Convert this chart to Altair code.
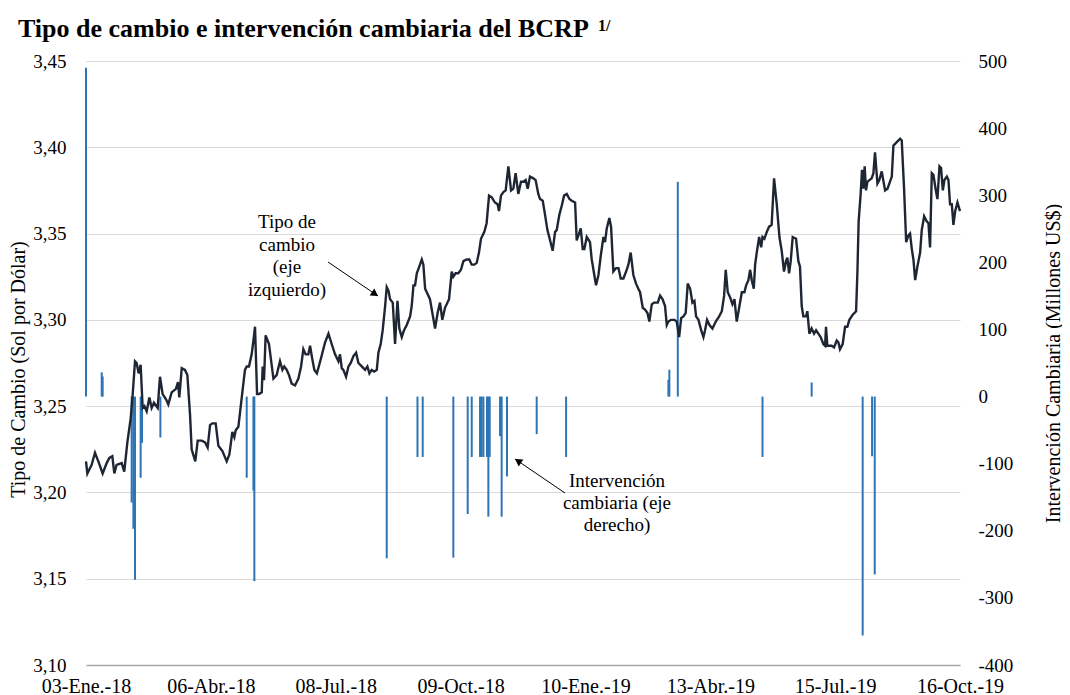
import altair as alt
import pandas as pd

# ---------------- datos ----------------
inicio = "2018-01-03"
fin = "2019-10-16"
fechas_eje = ["2018-01-03", "2018-04-06", "2018-07-08", "2018-10-09",
              "2019-01-10", "2019-04-13", "2019-07-15", "2019-10-16"]
meses_es = ["Ene.", "Feb.", "Mar.", "Abr.", "May.", "Jun.",
            "Jul.", "Ago.", "Set.", "Oct.", "Nov.", "Dic."]
ticks_tc = [3.10, 3.15, 3.20, 3.25, 3.30, 3.35, 3.40, 3.45]
ticks_int = [-400, -300, -200, -100, 0, 100, 200, 300, 400, 500]

titulo = "Tipo de cambio e intervención cambiaria del BCRP"
nota = "1/"

# días transcurridos desde el 03-Ene-18
dias_tc = [
    0, 1, 4.2, 6.7, 9.2, 12.4, 15.4, 17.4, 19.6, 21.1,
    22.8, 26.6, 28.5, 30.8, 33.3, 34.8, 36.5, 37.7, 39.2, 40.7,
    42.2, 43.5, 45.2, 47.2, 48.9, 50.6, 53.4, 55.1, 57.1, 59.6,
    61.3, 63.8, 67.0, 68.5, 69.5, 71.3, 73.7, 75.5, 77.5, 78.7,
    81.4, 83.2, 86.2, 88.7, 90.6, 92.4, 94.1, 96.6, 98.6, 101.6,
    104.8, 106.8, 109.0, 110.5, 111.5, 113.5, 116.0, 118.4, 119.7, 121.4,
    123.4, 124.7, 125.9, 127.4, 128.9, 130.9, 131.6, 132.6, 133.8, 136.3,
    139.6, 142.0, 144.5, 146.3, 147.7, 149.5, 151.2, 153.2, 155.7, 158.2,
    160.2, 161.9, 163.6, 165.6, 166.9, 168.4, 170.1, 172.0, 174.8, 178.1,
    180.6, 183.0, 185.5, 188.0, 189.2, 190.5, 191.7, 193.7, 195.5, 197.2,
    199.2, 201.2, 202.9, 205.4, 207.9, 209.6, 211.1, 212.8, 214.6, 216.6,
    217.8, 219.5, 221.0, 222.8, 224.0, 225.3, 226.5, 228.5, 230.2, 232.0,
    233.4, 235.2, 236.9, 238.9, 241.4, 242.6, 243.9, 245.1, 246.4, 248.3,
    250.1, 251.3, 252.6, 256.2, 258.0, 260.0, 261.9, 263.7, 265.4, 267.4,
    270.4, 272.4, 273.6, 275.3, 277.3, 279.3, 281.1, 283.5, 285.5, 287.3,
    289.2, 291.0, 292.7, 294.2, 296.7, 298.4, 300.2, 302.2, 304.6, 306.6,
    307.6, 309.1, 310.9, 312.6, 314.6, 316.6, 318.3, 320.0, 322.0, 324.0,
    325.7, 327.5, 329.0, 330.7, 333.2, 334.9, 336.9, 338.2, 340.2, 341.9,
    343.7, 345.7, 347.6, 349.4, 350.6, 352.6, 354.3, 356.1, 358.1, 360.1,
    361.8, 364.3, 365.5, 366.8, 368.5, 370.0, 371.2, 373.0, 375.4, 376.7,
    378.4, 379.9, 381.7, 383.4, 385.4, 386.6, 387.9, 389.8, 391.1, 392.8,
    394.8, 396.6, 398.3, 400.3, 402.3, 404.0, 405.7, 407.7, 409.7, 411.4,
    412.7, 414.7, 416.4, 418.2, 419.6, 421.4, 423.1, 425.9, 427.6, 429.4,
    431.3, 432.6, 433.8, 435.8, 438.3, 440.0, 441.8, 443.3, 445.0, 446.7,
    448.2, 450.0, 451.7, 453.2, 454.4, 456.2, 458.2, 459.9, 461.1, 462.6,
    464.4, 466.6, 469.1, 471.6, 473.6, 475.3, 476.5, 478.0, 479.8, 481.5,
    483.0, 484.7, 486.5, 488.5, 490.4, 491.7, 493.4, 494.7, 495.9, 497.4,
    498.4, 499.6, 501.4, 502.9, 503.9, 505.3, 507.1, 508.8, 510.7, 512.5,
    514.5, 516.5, 518.2, 519.9, 521.4, 522.4, 523.7, 524.9, 526.4, 528.9,
    530.6, 531.8, 533.1, 534.3, 536.3, 537.3, 538.8, 540.5, 542.3, 543.8,
    545.5, 547.2, 549.2, 550.5, 551.2, 552.2, 553.7, 555.4, 557.2, 559.2,
    560.4, 561.6, 563.6, 565.4, 567.1, 568.6, 571.1, 573.6, 574.6, 575.5,
    577.0, 578.0, 579.0, 580.0, 581.0, 582.0, 583.5, 585.2, 586.5, 587.7,
    589.5, 590.9, 592.7, 595.2, 597.0, 600.2, 601.4, 603.9, 606.4, 607.6,
    609.4, 610.9, 612.6, 613.8, 615.1, 616.3, 617.6, 619.3, 621.3, 622.5,
    624.3, 626.3, 627.5, 628.7, 630.0, 631.2, 633.0, 634.2, 635.7, 636.9,
    638.2, 639.4, 641.2, 642.4, 643.6, 644.9, 646.1, 647.4, 649.1, 651.0,
]

tipo_cambio = [
    3.218, 3.211, 3.216, 3.223, 3.218, 3.211, 3.217, 3.220, 3.221, 3.211,
    3.216, 3.217, 3.212, 3.229, 3.243, 3.257, 3.276, 3.275, 3.269, 3.274,
    3.249, 3.250, 3.247, 3.255, 3.249, 3.252, 3.249, 3.267, 3.257, 3.254,
    3.251, 3.258, 3.260, 3.264, 3.255, 3.272, 3.271, 3.268, 3.245, 3.225,
    3.218, 3.230, 3.230, 3.229, 3.226, 3.239, 3.240, 3.240, 3.227, 3.224,
    3.218, 3.222, 3.235, 3.232, 3.236, 3.238, 3.255, 3.271, 3.273, 3.273,
    3.280, 3.288, 3.296, 3.257, 3.257, 3.258, 3.273, 3.265, 3.291, 3.286,
    3.266, 3.268, 3.276, 3.271, 3.273, 3.271, 3.268, 3.263, 3.262, 3.266,
    3.273, 3.283, 3.280, 3.280, 3.285, 3.278, 3.271, 3.269, 3.277, 3.287,
    3.292, 3.286, 3.280, 3.276, 3.280, 3.272, 3.271, 3.267, 3.273, 3.275,
    3.279, 3.281, 3.275, 3.273, 3.271, 3.273, 3.269, 3.271, 3.270, 3.271,
    3.281, 3.286, 3.294, 3.308, 3.319, 3.317, 3.312, 3.310, 3.286, 3.311,
    3.295, 3.290, 3.294, 3.297, 3.302, 3.308, 3.320, 3.320, 3.327, 3.331,
    3.335, 3.332, 3.318, 3.312, 3.304, 3.295, 3.304, 3.310, 3.300, 3.307,
    3.312, 3.328, 3.325, 3.327, 3.327, 3.329, 3.334, 3.335, 3.335, 3.332,
    3.332, 3.333, 3.339, 3.347, 3.351, 3.356, 3.372, 3.371, 3.368, 3.367,
    3.363, 3.372, 3.374, 3.375, 3.389, 3.375, 3.376, 3.385, 3.373, 3.380,
    3.380, 3.381, 3.376, 3.383, 3.382, 3.381, 3.373, 3.370, 3.369, 3.361,
    3.352, 3.346, 3.340, 3.351, 3.352, 3.361, 3.366, 3.372, 3.373, 3.370,
    3.369, 3.368, 3.346, 3.349, 3.353, 3.341, 3.341, 3.348, 3.345, 3.335,
    3.327, 3.320, 3.326, 3.337, 3.348, 3.345, 3.353, 3.359, 3.354, 3.328,
    3.330, 3.330, 3.324, 3.324, 3.328, 3.332, 3.339, 3.326, 3.321, 3.318,
    3.316, 3.307, 3.306, 3.304, 3.299, 3.309, 3.310, 3.310, 3.314, 3.312,
    3.308, 3.297, 3.299, 3.300, 3.300, 3.299, 3.290, 3.301, 3.302, 3.304,
    3.321, 3.318, 3.310, 3.311, 3.302, 3.300, 3.294, 3.290, 3.294, 3.300,
    3.297, 3.295, 3.299, 3.302, 3.305, 3.314, 3.329, 3.316, 3.313, 3.309,
    3.312, 3.299, 3.307, 3.316, 3.316, 3.320, 3.323, 3.329, 3.323, 3.318,
    3.332, 3.339, 3.348, 3.342, 3.348, 3.347, 3.351, 3.354, 3.355, 3.382,
    3.367, 3.348, 3.340, 3.328, 3.334, 3.336, 3.327, 3.334, 3.348, 3.347,
    3.334, 3.331, 3.308, 3.302, 3.302, 3.305, 3.292, 3.295, 3.292, 3.294,
    3.292, 3.290, 3.286, 3.285, 3.296, 3.285, 3.285, 3.285, 3.284, 3.288,
    3.287, 3.283, 3.286, 3.296, 3.296, 3.300, 3.303, 3.305, 3.328, 3.357,
    3.373, 3.387, 3.376, 3.389, 3.375, 3.380, 3.381, 3.382, 3.385, 3.397,
    3.379, 3.381, 3.386, 3.375, 3.376, 3.383, 3.401, 3.403, 3.405, 3.404,
    3.375, 3.345, 3.349, 3.350, 3.341, 3.335, 3.323, 3.331, 3.339, 3.352,
    3.360, 3.357, 3.356, 3.342, 3.385, 3.384, 3.375, 3.370, 3.389, 3.388,
    3.375, 3.381, 3.383, 3.381, 3.367, 3.367, 3.355, 3.363, 3.368, 3.363,
]

dias_int = [0, 11.7, 12.4, 34.0, 35.3, 36.5, 40.7, 41.7, 55.4,
            119.7, 124.7, 125.4, 224.0, 246.9, 250.8,
            273.6, 284.3, 287.3, 293.5, 294.7, 296.0, 298.7, 299.7, 300.7,
            308.4, 309.6, 313.6, 335.7, 357.6,
            433.8, 434.5, 440.8, 503.9, 540.5, 578.5, 585.5, 587.5]
intervencion = [490, 36, 30, -158, -197, -273, -121, -69, -61,
                -121, -140, -275, -241, -90, -90,
                -240, -175, -90, -90, -90, -90, -90, -179, -90,
                -59, -179, -119, -56, -90,
                25, 40, 320, -90, 21, -356, -89, -265]

# ---------------- tablas ----------------
base = pd.Timestamp(inicio)
df_tc = pd.DataFrame({"fecha": base + pd.to_timedelta(dias_tc, unit="D"),
                      "tc": tipo_cambio})
df_int = pd.DataFrame({"fecha": base + pd.to_timedelta(dias_int, unit="D"),
                       "monto": intervencion,
                       "cero": [0] * len(intervencion)})
uno = pd.DataFrame({"a": [0]})

FONT = "Liberation Serif"


def dt(s):
    y, m, d = (int(v) for v in s.split("-"))
    return alt.DateTime(year=y, month=m, date=d)


meses_expr = "[" + ",".join("'" + m + "'" for m in meses_es) + "]"
x_enc = alt.X(
    "fecha:T",
    scale=alt.Scale(domain=[dt(inicio), dt(fin)]),
    axis=alt.Axis(
        values=[dt(s) for s in fechas_eje],
        labelExpr="timeFormat(datum.value, '%d') + '-' + " + meses_expr
                  + "[month(datum.value)] + '-' + timeFormat(datum.value, '%y')",
        title=None, grid=False, ticks=False,
        domainColor="#a6a6a6", domainWidth=1.5,
        labelFontSize=20, labelPadding=11,
        labelFlush=False, labelOverlap=False,
    ),
)

barras = alt.Chart(df_int).mark_rule(color="#2e75b6", strokeWidth=2).encode(
    x=x_enc,
    y=alt.Y("monto:Q",
            scale=alt.Scale(domain=[-400, 500], nice=False, zero=False),
            axis=alt.Axis(orient="right", values=ticks_int,
                          labelExpr="'' + datum.value",
                          grid=False, domain=False, ticks=False,
                          labelFontSize=19, labelPadding=18,
                          title="Intervención Cambiaria (Millones US$)",
                          titleFontSize=20, titleFontWeight="normal",
                          titleAngle=270, titleX=93, titleY=302,
                          titleAlign="center", titleBaseline="middle")),
    y2="cero:Q",
)

linea = alt.Chart(df_tc).mark_line(color="#1f2633", strokeWidth=2.4).encode(
    x=x_enc,
    y=alt.Y("tc:Q",
            scale=alt.Scale(domain=[3.10, 3.45], nice=False, zero=False),
            axis=alt.Axis(orient="left", values=ticks_tc,
                          labelExpr="replace(format(datum.value, '.2f'), '.', ',')",
                          grid=True, gridColor="#d9d9d9", gridWidth=1,
                          domain=False, ticks=False,
                          labelFontSize=19, labelPadding=20,
                          title="Tipo de Cambio (Sol por Dólar)",
                          titleFontSize=20, titleFontWeight="normal",
                          titleAngle=270, titleX=-68, titleY=308,
                          titleAlign="center", titleBaseline="middle")),
)

texto1 = alt.Chart(uno).mark_text(
    font=FONT, fontSize=19, align="center", baseline="alphabetic",
    lineHeight=22.7, color="black"
).encode(x=alt.value(201), y=alt.value(167),
         text=alt.value(["Tipo de", "cambio", "(eje", "izquierdo)"]))

texto2 = alt.Chart(uno).mark_text(
    font=FONT, fontSize=19, align="center", baseline="alphabetic",
    lineHeight=22, color="black"
).encode(x=alt.value(531), y=alt.value(426),
         text=alt.value(["Intervención", "cambiaria (eje", "derecho)"]))

flecha1 = alt.Chart(uno).mark_rule(color="black", strokeWidth=1).encode(
    x=alt.value(242), y=alt.value(201), x2=alt.value(292), y2=alt.value(235))
punta1 = alt.Chart(uno).mark_point(shape="triangle-right", filled=True,
                                   size=70, angle=34, color="black",
                                   opacity=1).encode(
    x=alt.value(289), y=alt.value(233))

flecha2 = alt.Chart(uno).mark_rule(color="black", strokeWidth=1).encode(
    x=alt.value(479), y=alt.value(432), x2=alt.value(429), y2=alt.value(398))
punta2 = alt.Chart(uno).mark_point(shape="triangle-right", filled=True,
                                   size=70, angle=214, color="black",
                                   opacity=1).encode(
    x=alt.value(432), y=alt.value(400))

tit = alt.Chart(uno).mark_text(font=FONT, fontSize=26, fontWeight="bold",
                               align="left", baseline="alphabetic",
                               color="black").encode(
    x=alt.value(-68), y=alt.value(-24), text=alt.value(titulo))

sup = alt.Chart(uno).mark_text(font=FONT, fontSize=16, fontWeight="bold",
                               align="left", baseline="alphabetic",
                               color="black").encode(
    x=alt.value(512), y=alt.value(-30), text=alt.value(nota))

izquierda = alt.layer(linea, texto1, texto2, flecha1, punta1, flecha2, punta2,
                      tit, sup)

chart = alt.layer(barras, izquierda).resolve_scale(y="independent").properties(
    width=874, height=604,
    autosize=alt.AutoSizeParams(type="none"),
    padding={"left": 78, "top": 53, "right": 102, "bottom": 34},
    background="white",
).configure_view(stroke=None).configure_axis(
    labelFont=FONT, titleFont=FONT, labelColor="black", titleColor="black"
).configure_text(font=FONT)

chart.save("out.html", embed_options={"renderer": "svg", "actions": False})
